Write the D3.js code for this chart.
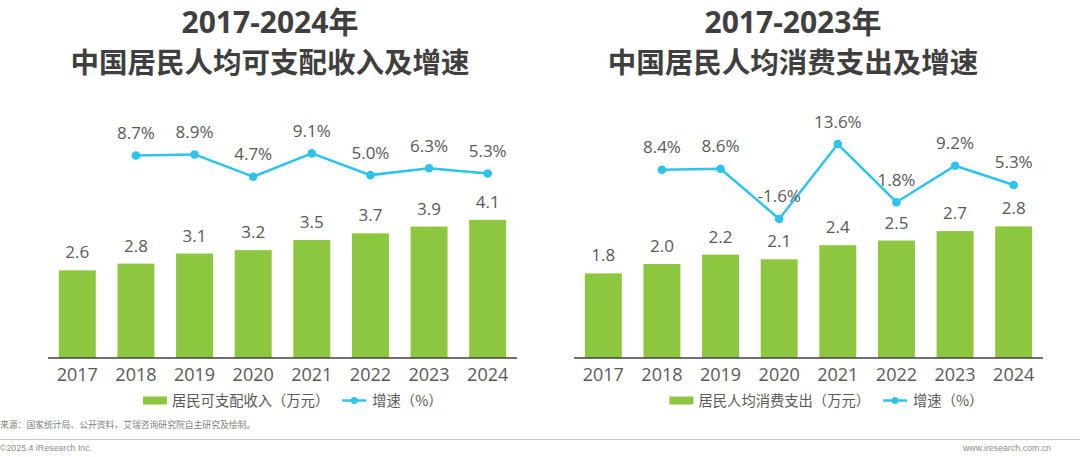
<!DOCTYPE html>
<html>
<head>
<meta charset="utf-8">
<script src="https://cdn.jsdelivr.net/npm/d3@7"></script>
<style>
  html, body { margin: 0; padding: 0; background: #fff; }
  svg { display: block; }
</style>
</head>
<body>
<svg id="chart" width="1080" height="457"></svg>
<script>
const years = ['2017', '2018', '2019', '2020', '2021', '2022', '2023', '2024'];
const growthYears = ['2018', '2019', '2020', '2021', '2022', '2023', '2024'];

const incomeValues = [2.6, 2.8, 3.1, 3.2, 3.5, 3.7, 3.9, 4.1];
const incomeGrowth = [8.7, 8.9, 4.7, 9.1, 5.0, 6.3, 5.3];

const spendValues = [1.8, 2.0, 2.2, 2.1, 2.4, 2.5, 2.7, 2.8];
const spendGrowth = [8.4, 8.6, -1.6, 13.6, 1.8, 9.2, 5.3];

const leftTitle = ['2017-2024年', '中国居民人均可支配收入及增速'];
const rightTitle = ['2017-2023年', '中国居民人均消费支出及增速'];
const leftLegend = ['居民可支配收入（万元）', '增速（%）'];
const rightLegend = ['居民人均消费支出（万元）', '增速（%）'];

const BAR = '#8dc63f';
const LINE = '#2ec3ea';
const TEXT = '#595959';
const TITLE = '#3f3f3f';
const NUMFONT = "'Open Sans', 'Noto Sans CJK SC', sans-serif";
const CJKFONT = "'Noto Sans CJK SC', 'Open Sans', sans-serif";

const svg = d3.select('#chart');

function panel(cfg) {
  const g = svg.append('g');
  const x = d3.scaleBand().domain(years).range(cfg.xRange).paddingInner(0.37).paddingOuter(0.185);
  const yBar = d3.scaleLinear().domain(cfg.barDomain).range([358, cfg.barTop]);
  const yLine = d3.scaleLinear().domain([0, 10]).range(cfg.lineRange);

  // title
  g.append('text').attr('x', cfg.cx).attr('y', 33).attr('text-anchor', 'middle')
    .attr('font-family', NUMFONT).attr('font-weight', 'bold').attr('font-size', 30)
    .attr('fill', TITLE).text(cfg.title[0]);
  g.append('text').attr('x', cfg.cx).attr('y', 73).attr('text-anchor', 'middle')
    .attr('font-family', CJKFONT).attr('font-weight', 'bold').attr('font-size', 28.5)
    .attr('fill', TITLE).text(cfg.title[1]);

  // bars
  g.selectAll('rect.bar').data(cfg.bars).enter().append('rect')
    .attr('x', (d, i) => x(years[i])).attr('width', x.bandwidth())
    .attr('y', d => yBar(d)).attr('height', d => yBar(0) - yBar(d))
    .attr('fill', BAR);
  g.selectAll('text.barlabel').data(cfg.bars).enter().append('text')
    .attr('x', (d, i) => x(years[i]) + x.bandwidth() / 2)
    .attr('y', d => yBar(d) - 12)
    .attr('text-anchor', 'middle').attr('font-family', NUMFONT).attr('font-size', 17)
    .attr('fill', TEXT).text(d => d.toFixed(1));

  // x axis
  const axis = g.append('g').attr('transform', 'translate(0,358)')
    .call(d3.axisBottom(x).tickSize(0).tickPadding(10));
  axis.select('.domain').attr('stroke', '#404040').attr('stroke-width', 1.3)
    .attr('d', `M${cfg.xRange[0]},0H${cfg.xRange[1]}`);
  axis.selectAll('text').attr('font-family', NUMFONT).attr('font-size', 18).attr('fill', TEXT)
    .attr('dy', '0.71em');

  // line
  const cxOf = yr => x(yr) + x.bandwidth() / 2;
  const line = d3.line().x((d, i) => cxOf(growthYears[i])).y(d => yLine(d));
  g.append('path').datum(cfg.growth).attr('d', line)
    .attr('fill', 'none').attr('stroke', LINE).attr('stroke-width', 2.5);
  g.selectAll('circle.pt').data(cfg.growth).enter().append('circle')
    .attr('cx', (d, i) => cxOf(growthYears[i])).attr('cy', d => yLine(d)).attr('r', 4.3)
    .attr('fill', LINE);
  g.selectAll('text.ptlabel').data(cfg.growth).enter().append('text')
    .attr('x', (d, i) => cxOf(growthYears[i])).attr('y', d => yLine(d) - 16.5)
    .attr('text-anchor', 'middle').attr('font-family', NUMFONT).attr('font-size', 17)
    .attr('fill', TEXT).text(d => d.toFixed(1) + '%');

  // legend
  const lg = g.append('g');
  lg.append('rect').attr('x', cfg.legX).attr('y', 396.5).attr('width', 24).attr('height', 8).attr('fill', BAR);
  const t1 = lg.append('text').attr('x', cfg.legX + 29).attr('y', 405.5)
    .attr('font-family', CJKFONT).attr('font-size', 14.3).attr('fill', TEXT).text(cfg.legend[0]);
  const w1 = t1.node().getComputedTextLength();
  const lx = cfg.legX + 29 + w1 + 13;
  lg.append('line').attr('x1', lx).attr('x2', lx + 24).attr('y1', 400.5).attr('y2', 400.5)
    .attr('stroke', LINE).attr('stroke-width', 2.5);
  lg.append('circle').attr('cx', lx + 12).attr('cy', 400.5).attr('r', 3.5).attr('fill', LINE);
  lg.append('text').attr('x', lx + 30).attr('y', 405.5)
    .attr('font-family', CJKFONT).attr('font-size', 14.3).attr('fill', TEXT).text(cfg.legend[1]);
}

panel({
  cx: 270, title: leftTitle, xRange: [48, 517],
  barDomain: [0, 5], barTop: 358 - 5 * 33.7,
  lineRange: [201.6, 201.6 - 53],
  bars: incomeValues, growth: incomeGrowth,
  legend: leftLegend, legX: 143
});

panel({
  cx: 793, title: rightTitle, xRange: [574, 1043],
  barDomain: [0, 4], barTop: 358 - 4 * 47,
  lineRange: [211.1, 211.1 - 49.3],
  bars: spendValues, growth: spendGrowth,
  legend: rightLegend, legX: 669.5
});

// footer
svg.append('text').attr('x', 0).attr('y', 428).attr('font-family', CJKFONT).attr('font-size', 8.8)
  .attr('fill', '#7f7f7f').text('来源：国家统计局、公开资料，艾瑞咨询研究院自主研究及绘制。');
svg.append('line').attr('x1', 0).attr('x2', 1080).attr('y1', 439.5).attr('y2', 439.5)
  .attr('stroke', '#c8c8c8').attr('stroke-width', 1);
svg.append('text').attr('x', 0).attr('y', 451).attr('font-family', "'Liberation Sans', Arial, sans-serif").attr('font-size', 8.8)
  .attr('fill', '#8c8c8c').text('©2025.4 iResearch Inc.');
svg.append('text').attr('x', 1051).attr('y', 451).attr('text-anchor', 'end').attr('font-family', "'Liberation Sans', Arial, sans-serif").attr('font-size', 8.8)
  .attr('fill', '#8c8c8c').text('www.iresearch.com.cn');
</script>
</body>
</html>
